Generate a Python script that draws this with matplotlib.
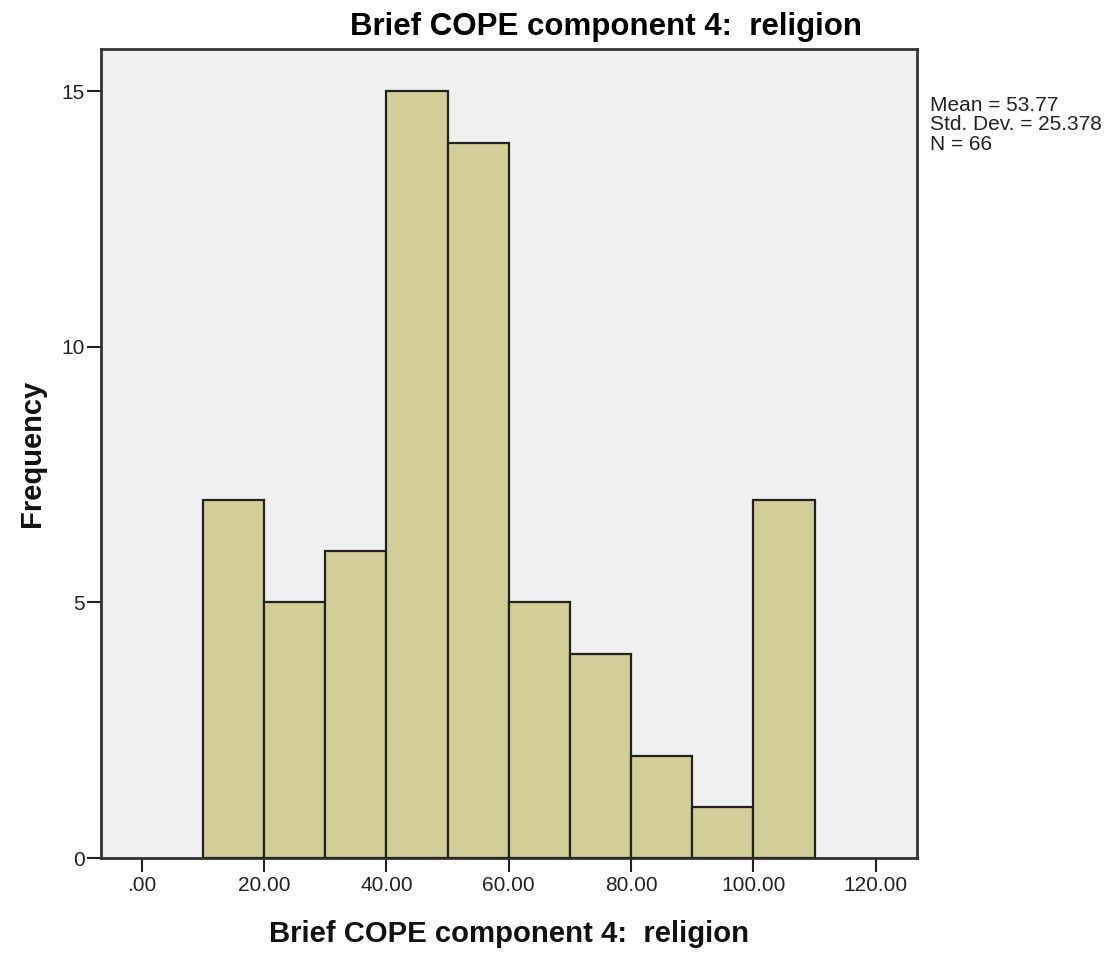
import matplotlib
matplotlib.use("Agg")
import matplotlib.pyplot as plt
import numpy as np

bin_edges = [10, 20, 30, 40, 50, 60, 70, 80, 90, 100, 110]
counts = [7, 5, 6, 15, 14, 5, 4, 2, 1, 7]
x_ticks = [0, 20, 40, 60, 80, 100, 120]
x_tick_labels = [".00", "20.00", "40.00", "60.00", "80.00", "100.00", "120.00"]
y_ticks = [0, 5, 10, 15]
stats_lines = ["Mean = 53.77", "Std. Dev. = 25.378", "N = 66"]
title = "Brief COPE component 4:  religion"

plt.rcParams['font.family'] = ['Liberation Sans', 'DejaVu Sans']

W, H = 1113, 955
fig = plt.figure(figsize=(W/100, H/100), dpi=100)
fig.patch.set_facecolor("white")
l, r, t, b = 100.7, 916.7, 49, 858
ax = fig.add_axes([l/W, 1-b/H, (r-l)/W, (b-t)/H])
ax.set_facecolor("#F0F0F0")

lefts = np.array(bin_edges[:-1])
widths = np.diff(bin_edges)
ax.bar(lefts, counts, width=widths, align="edge", color="#D3CE98",
       edgecolor="#222222", linewidth=1.6, zorder=3)

ax.set_xlim(-6.70, 126.7)
ax.set_ylim(0, 15.83)
ax.set_xticks(x_ticks)
ax.set_xticklabels(x_tick_labels)
ax.set_yticks(y_ticks)
ax.tick_params(axis="both", direction="out", length=10, width=1.5, color="#222222",
               labelsize=15, labelcolor="#222222")
ax.tick_params(axis="x", pad=3)
ax.tick_params(axis="y", pad=1.5)
for s in ax.spines.values():
    s.set_linewidth(2)
    s.set_color("#333333")

# axis labels placed in figure pixels
fig.text(508.7/W, 1-942/H, title, fontsize=21.1, fontweight="bold",
         ha="center", va="baseline", color="#111111")
fig.text(40/W, 1-453.5/H, "Frequency", fontsize=21, fontweight="bold",
         rotation=90, rotation_mode="anchor", ha="center", va="baseline",
         color="#111111")
fig.text(606.5/W, 1-35/H, title, fontsize=22.5, fontweight="bold",
         ha="center", va="baseline", color="#000000")

for i, line in enumerate(stats_lines):
    fig.text(930/W, 1-(111 + 19.5*i)/H, line, fontsize=15, ha="left", va="baseline",
             color="#222222")

fig.savefig("out.png", dpi=100)
